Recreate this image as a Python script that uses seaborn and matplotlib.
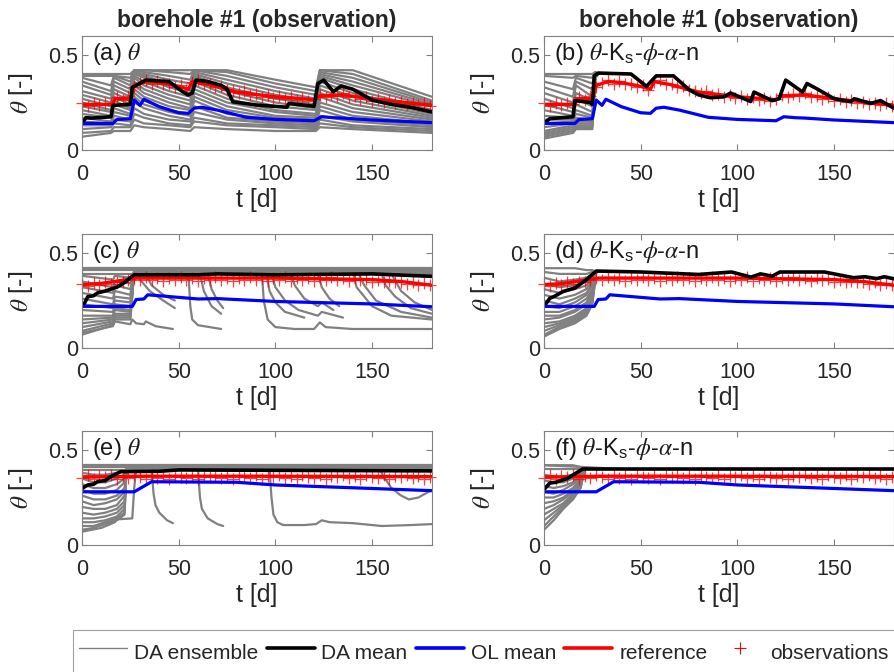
import numpy as np
import pandas as pd
import seaborn as sns
import matplotlib
matplotlib.use('Agg')
import matplotlib.pyplot as plt
from matplotlib.lines import Line2D

sns.set_style('ticks')
plt.rcParams['font.family'] = ['Liberation Sans', 'DejaVu Sans']
plt.rcParams['mathtext.fontset'] = 'custom'
plt.rcParams['mathtext.rm'] = 'Liberation Sans'
plt.rcParams['mathtext.it'] = 'STIXGeneral:italic'
plt.rcParams['mathtext.bf'] = 'Liberation Sans:bold'

# ---- data ----
obs_t = np.arange(0, 181, 3)

# row 1 (a, b)
ref1_t = [0, 16, 17, 25, 27, 33, 40, 50, 55, 57, 65, 80, 100, 120, 123, 135, 150, 181]
ref1 = [0.24, 0.24, 0.27, 0.27, 0.34, 0.36, 0.355, 0.335, 0.32, 0.36, 0.345, 0.305,
        0.28, 0.265, 0.285, 0.29, 0.27, 0.235]
obs1 = [0.25, 0.23, 0.245, 0.235, 0.25, 0.24, 0.28, 0.265, 0.285, 0.33,
        0.355, 0.37, 0.35, 0.365, 0.345, 0.35, 0.33, 0.34, 0.315, 0.36,
        0.37, 0.345, 0.35, 0.33, 0.335, 0.315, 0.31, 0.30, 0.31, 0.29,
        0.295, 0.28, 0.29, 0.275, 0.285, 0.27, 0.28, 0.265, 0.275, 0.26,
        0.27, 0.29, 0.28, 0.295, 0.285, 0.30, 0.28, 0.285, 0.27, 0.28,
        0.26, 0.27, 0.255, 0.265, 0.25, 0.255, 0.24, 0.25, 0.235, 0.245, 0.23]
ol1_t = [0, 16, 18, 25, 27, 30, 32, 40, 50, 55, 58, 62, 70, 85, 100, 120, 124, 130, 135, 150, 181]
ol1 = [0.14, 0.14, 0.16, 0.165, 0.263, 0.235, 0.267, 0.228, 0.196, 0.193, 0.22, 0.225,
       0.21, 0.172, 0.161, 0.154, 0.175, 0.17, 0.168, 0.158, 0.144]
da_a_t = [0, 2, 5, 15, 16, 25, 26, 28, 33, 45, 52, 55, 57, 59, 65, 72, 75, 78, 90, 106,
          107, 120, 122, 125, 130, 134, 140, 150, 160, 170, 181]
da_a = [0.14, 0.17, 0.168, 0.175, 0.235, 0.24, 0.33, 0.34, 0.368, 0.36, 0.307, 0.29, 0.30,
        0.368, 0.36, 0.34, 0.32, 0.254, 0.237, 0.225, 0.245, 0.23, 0.35, 0.368, 0.307,
        0.337, 0.32, 0.263, 0.24, 0.225, 0.20]
da_b_t = [0, 3, 15, 16, 24, 25, 26, 28, 45, 53, 58, 67, 75, 80, 86, 93, 96.5, 106.9, 108.6,
          118, 121.6, 125, 133.7, 136, 141.5, 150, 158.7, 160.4, 169, 174, 181]
da_b = [0.14, 0.165, 0.175, 0.26, 0.25, 0.24, 0.39, 0.405, 0.40, 0.335, 0.39, 0.39, 0.317,
        0.29, 0.275, 0.28, 0.30, 0.255, 0.305, 0.26, 0.27, 0.368, 0.305, 0.35, 0.32, 0.27,
        0.254, 0.27, 0.245, 0.26, 0.22]

ens_a_t = [0, 15, 16.5, 25, 27, 32, 45, 56, 58, 75, 100, 121, 123, 140, 181]
ens_a = [
    [0.40, 0.40, 0.40, 0.40, 0.42, 0.42, 0.42, 0.42, 0.42, 0.42, 0.37, 0.33, 0.42, 0.42, 0.28],
    [0.39, 0.39, 0.39, 0.38, 0.42, 0.42, 0.41, 0.40, 0.42, 0.41, 0.35, 0.31, 0.42, 0.40, 0.26],
    [0.38, 0.34, 0.39, 0.36, 0.42, 0.41, 0.39, 0.37, 0.42, 0.39, 0.33, 0.29, 0.41, 0.38, 0.25],
    [0.36, 0.31, 0.38, 0.34, 0.41, 0.40, 0.37, 0.35, 0.41, 0.37, 0.31, 0.27, 0.40, 0.36, 0.24],
    [0.34, 0.29, 0.36, 0.32, 0.41, 0.39, 0.35, 0.32, 0.40, 0.35, 0.29, 0.26, 0.39, 0.34, 0.23],
    [0.31, 0.27, 0.34, 0.30, 0.40, 0.38, 0.33, 0.30, 0.39, 0.33, 0.27, 0.24, 0.38, 0.32, 0.21],
    [0.29, 0.25, 0.32, 0.28, 0.39, 0.36, 0.31, 0.28, 0.38, 0.31, 0.25, 0.22, 0.36, 0.30, 0.20],
    [0.27, 0.23, 0.30, 0.26, 0.38, 0.34, 0.29, 0.26, 0.36, 0.29, 0.23, 0.21, 0.34, 0.28, 0.19],
    [0.25, 0.21, 0.28, 0.24, 0.36, 0.32, 0.27, 0.24, 0.34, 0.27, 0.21, 0.19, 0.32, 0.26, 0.18],
    [0.23, 0.20, 0.26, 0.22, 0.34, 0.30, 0.25, 0.22, 0.32, 0.25, 0.20, 0.18, 0.30, 0.24, 0.17],
    [0.21, 0.18, 0.24, 0.21, 0.32, 0.28, 0.23, 0.21, 0.30, 0.23, 0.18, 0.17, 0.28, 0.22, 0.16],
    [0.19, 0.17, 0.22, 0.19, 0.30, 0.26, 0.21, 0.19, 0.28, 0.21, 0.17, 0.16, 0.25, 0.20, 0.15],
    [0.17, 0.15, 0.20, 0.18, 0.28, 0.24, 0.20, 0.18, 0.26, 0.19, 0.16, 0.15, 0.23, 0.18, 0.14],
    [0.15, 0.14, 0.18, 0.16, 0.25, 0.22, 0.18, 0.16, 0.23, 0.17, 0.15, 0.14, 0.21, 0.16, 0.13],
    [0.13, 0.13, 0.16, 0.15, 0.22, 0.19, 0.16, 0.15, 0.20, 0.16, 0.14, 0.13, 0.18, 0.15, 0.12],
    [0.11, 0.12, 0.14, 0.13, 0.19, 0.17, 0.14, 0.13, 0.17, 0.14, 0.13, 0.12, 0.16, 0.13, 0.11],
    [0.09, 0.10, 0.12, 0.12, 0.16, 0.14, 0.13, 0.12, 0.15, 0.13, 0.12, 0.11, 0.14, 0.12, 0.10],
    [0.07, 0.09, 0.10, 0.10, 0.13, 0.12, 0.11, 0.10, 0.12, 0.11, 0.10, 0.10, 0.12, 0.11, 0.09],
]
ens_b_t = [0, 15, 16.5, 25, 26.5, 28]
ens_b = [
    [0.40, 0.40, 0.40, 0.40, 0.41, 0.40],
    [0.39, 0.38, 0.39, 0.38, 0.41, 0.40],
    [0.36, 0.32, 0.38, 0.35, 0.41, 0.40],
    [0.33, 0.28, 0.36, 0.32, 0.40, 0.40],
    [0.30, 0.25, 0.34, 0.28, 0.40, 0.40],
    [0.27, 0.22, 0.30, 0.26, 0.40, 0.40],
    [0.24, 0.20, 0.27, 0.23, 0.40, 0.40],
    [0.21, 0.18, 0.24, 0.20, 0.40, 0.40],
    [0.18, 0.17, 0.21, 0.18, 0.39, 0.40],
    [0.16, 0.16, 0.19, 0.17, 0.39, 0.40],
    [0.14, 0.15, 0.17, 0.16, 0.39, 0.40],
    [0.12, 0.14, 0.16, 0.15, 0.38, 0.40],
    [0.10, 0.13, 0.15, 0.15, 0.38, 0.40],
    [0.09, 0.12, 0.14, 0.14, 0.38, 0.40],
    [0.08, 0.11, 0.13, 0.13, 0.38, 0.40],
    [0.07, 0.10, 0.12, 0.12, 0.38, 0.40],
    [0.06, 0.09, 0.11, 0.11, 0.38, 0.40],
]

# row 2 (c, d)
ref2_t = [0, 10, 20, 28, 60, 100, 150, 165, 181]
ref2 = [0.333, 0.34, 0.355, 0.368, 0.368, 0.368, 0.36, 0.35, 0.33]
obs2 = [0.335, 0.325, 0.34, 0.33, 0.345, 0.335, 0.35, 0.345, 0.36, 0.37,
        0.36, 0.375, 0.36, 0.37, 0.355, 0.37, 0.36, 0.375, 0.36, 0.37,
        0.355, 0.37, 0.36, 0.375, 0.36, 0.37, 0.355, 0.37, 0.36, 0.375,
        0.36, 0.37, 0.355, 0.37, 0.36, 0.375, 0.355, 0.37, 0.36, 0.37,
        0.355, 0.37, 0.36, 0.375, 0.36, 0.37, 0.355, 0.37, 0.36, 0.365,
        0.35, 0.36, 0.345, 0.355, 0.345, 0.35, 0.335, 0.345, 0.33, 0.34, 0.33]
ol2_t = [0, 26, 28, 32, 34, 40, 60, 70, 100, 150, 181]
ol2 = [0.219, 0.219, 0.255, 0.258, 0.28, 0.275, 0.258, 0.26, 0.245, 0.232, 0.217]
da_c_t = [0, 1, 3, 6, 8, 12, 15, 18, 22, 25, 27, 40, 60, 70, 100, 150, 181]
da_c = [0.22, 0.23, 0.27, 0.275, 0.29, 0.30, 0.31, 0.32, 0.345, 0.37, 0.385, 0.385, 0.385,
        0.39, 0.385, 0.39, 0.377]
da_d_t = [0, 3, 5, 10, 16, 22, 27, 50, 80, 97, 107, 112, 118, 122, 145, 160, 166, 172, 176, 181]
da_d = [0.218, 0.262, 0.27, 0.298, 0.316, 0.36, 0.405, 0.40, 0.387, 0.40, 0.373, 0.39, 0.378,
        0.40, 0.40, 0.37, 0.375, 0.365, 0.375, 0.364]

ens_c_t = [0, 16, 17, 25, 27, 181]
ens_c = [
    [0.38, 0.36, 0.38, 0.37, 0.40, 0.40],
    [0.35, 0.32, 0.35, 0.34, 0.40, 0.40],
    [0.32, 0.29, 0.33, 0.31, 0.40, 0.40],
    [0.29, 0.26, 0.30, 0.28, 0.40, 0.40],
    [0.26, 0.23, 0.27, 0.26, 0.40, 0.40],
    [0.23, 0.21, 0.25, 0.24, 0.41, 0.41],
    [0.20, 0.19, 0.23, 0.22, 0.41, 0.41],
    [0.17, 0.17, 0.21, 0.20, 0.41, 0.41],
    [0.15, 0.16, 0.20, 0.19, 0.39, 0.39],
    [0.13, 0.15, 0.18, 0.18, 0.40, 0.40],
    [0.11, 0.14, 0.17, 0.17, 0.40, 0.40],
    [0.09, 0.13, 0.16, 0.16, 0.40, 0.40],
    [0.07, 0.12, 0.15, 0.15, 0.40, 0.40],
]
ens_c_extra = [
    ([0, 181], [0.42, 0.42]),
    ([0, 181], [0.41, 0.41]),
    ([0, 181], [0.39, 0.39]),
    ([0, 16, 17, 25, 26, 28, 32, 33, 38, 47], [0.08, 0.115, 0.14, 0.125, 0.15, 0.13, 0.125, 0.14, 0.115, 0.10]),
    ([28, 30, 35, 42, 48], [0.40, 0.36, 0.30, 0.25, 0.21]),
    ([33, 36, 42, 48], [0.39, 0.33, 0.28, 0.25]),
    ([55, 56, 57, 60, 72], [0.40, 0.22, 0.15, 0.12, 0.10]),
    ([61, 63, 67, 72], [0.39, 0.30, 0.22, 0.18]),
    ([65, 67, 70, 73], [0.39, 0.31, 0.25, 0.21]),
    ([93, 94, 96, 100, 110, 120, 123, 126, 140, 160, 181],
     [0.40, 0.25, 0.15, 0.11, 0.10, 0.10, 0.135, 0.11, 0.10, 0.10, 0.10]),
    ([95, 97, 100, 105, 115], [0.40, 0.30, 0.24, 0.19, 0.16]),
    ([98, 100, 105, 112, 122, 124, 135], [0.39, 0.32, 0.25, 0.20, 0.17, 0.19, 0.16]),
    ([108, 110, 115, 122, 124, 130], [0.39, 0.33, 0.26, 0.22, 0.24, 0.20]),
    ([122, 124, 128, 133], [0.39, 0.32, 0.26, 0.22]),
    ([140, 142, 150, 160, 181], [0.40, 0.32, 0.22, 0.17, 0.15]),
    ([143, 146, 152, 165, 181], [0.39, 0.33, 0.25, 0.19, 0.16]),
    ([155, 157, 162, 170, 181], [0.39, 0.33, 0.27, 0.21, 0.18]),
    ([160, 165, 172, 181], [0.39, 0.30, 0.24, 0.20]),
]
ens_d_t = [0, 8, 16, 22, 25, 27]
ens_d = [
    [0.42, 0.42, 0.42, 0.41, 0.41, 0.40],
    [0.40, 0.39, 0.39, 0.39, 0.40, 0.40],
    [0.37, 0.35, 0.36, 0.37, 0.39, 0.40],
    [0.34, 0.32, 0.33, 0.35, 0.38, 0.40],
    [0.31, 0.29, 0.31, 0.33, 0.37, 0.40],
    [0.28, 0.26, 0.28, 0.31, 0.36, 0.40],
    [0.25, 0.23, 0.26, 0.29, 0.34, 0.40],
    [0.22, 0.21, 0.24, 0.28, 0.33, 0.40],
    [0.19, 0.19, 0.22, 0.26, 0.31, 0.40],
    [0.17, 0.17, 0.20, 0.24, 0.30, 0.40],
    [0.15, 0.16, 0.19, 0.23, 0.28, 0.40],
    [0.13, 0.14, 0.17, 0.21, 0.27, 0.40],
    [0.11, 0.13, 0.16, 0.20, 0.26, 0.40],
    [0.09, 0.12, 0.15, 0.19, 0.25, 0.40],
    [0.07, 0.11, 0.14, 0.18, 0.24, 0.40],
    [0.06, 0.10, 0.13, 0.17, 0.23, 0.40],
]

# row 3 (e, f)
ref3_t = [0, 30, 90, 181]
ref3 = [0.357, 0.362, 0.362, 0.36]
obs3 = [0.355, 0.37, 0.35, 0.365, 0.36, 0.37, 0.35, 0.365, 0.355, 0.37,
        0.36, 0.35, 0.37, 0.355, 0.365, 0.35, 0.37, 0.36, 0.355, 0.37,
        0.35, 0.365, 0.36, 0.37, 0.355, 0.365, 0.35, 0.37, 0.36, 0.355,
        0.37, 0.35, 0.365, 0.36, 0.37, 0.355, 0.365, 0.35, 0.37, 0.36,
        0.355, 0.37, 0.35, 0.365, 0.36, 0.37, 0.355, 0.365, 0.35, 0.37,
        0.36, 0.355, 0.37, 0.35, 0.365, 0.36, 0.37, 0.355, 0.365, 0.35, 0.36]
ol3_t = [0, 27, 36, 80, 100, 181]
ol3 = [0.28, 0.28, 0.333, 0.33, 0.316, 0.286]
da_e_t = [0, 3, 6, 8, 12, 15, 20, 40, 50, 100, 181]
da_e = [0.298, 0.316, 0.32, 0.333, 0.34, 0.36, 0.386, 0.388, 0.395, 0.393, 0.39]
da_f_t = [0, 3, 6, 12, 20, 181]
da_f = [0.292, 0.326, 0.33, 0.35, 0.40, 0.40]

ens_e_t = [0, 6, 12, 18, 22, 23, 181]
ens_e = [
    [0.38, 0.37, 0.37, 0.38, 0.39, 0.40, 0.40],
    [0.35, 0.33, 0.33, 0.35, 0.37, 0.40, 0.40],
    [0.32, 0.30, 0.30, 0.32, 0.35, 0.41, 0.41],
    [0.29, 0.27, 0.27, 0.29, 0.33, 0.40, 0.40],
    [0.26, 0.24, 0.24, 0.26, 0.30, 0.41, 0.41],
    [0.23, 0.21, 0.22, 0.24, 0.28, 0.40, 0.40],
    [0.20, 0.19, 0.19, 0.21, 0.26, 0.40, 0.40],
    [0.17, 0.16, 0.17, 0.19, 0.23, 0.41, 0.41],
    [0.14, 0.14, 0.15, 0.17, 0.21, 0.40, 0.40],
    [0.12, 0.12, 0.13, 0.15, 0.19, 0.40, 0.40],
    [0.10, 0.10, 0.12, 0.14, 0.17, 0.40, 0.40],
    [0.08, 0.09, 0.11, 0.13, 0.16, 0.40, 0.40],
]
ens_e_extra = [
    ([0, 181], [0.42, 0.42]),
    ([0, 181], [0.41, 0.41]),
    ([0, 181], [0.395, 0.395]),
    ([0, 10, 17, 18, 26, 27, 28], [0.07, 0.09, 0.12, 0.135, 0.14, 0.30, 0.40]),
    ([36, 37, 38, 40, 44, 47], [0.40, 0.27, 0.21, 0.17, 0.13, 0.115]),
    ([60, 61, 62, 65, 70, 73], [0.40, 0.25, 0.19, 0.14, 0.11, 0.10]),
    ([97, 98, 99, 101, 104, 115, 121, 124, 128, 140, 155, 170, 181],
     [0.40, 0.25, 0.16, 0.12, 0.105, 0.105, 0.11, 0.13, 0.12, 0.115, 0.10, 0.105, 0.11]),
    ([154, 156, 160, 165, 169, 174, 181], [0.40, 0.36, 0.30, 0.26, 0.24, 0.25, 0.29]),
]
ens_f_t = [0, 5, 10, 15, 19, 21]
ens_f = [
    [0.42, 0.42, 0.42, 0.42, 0.41, 0.40],
    [0.40, 0.40, 0.40, 0.40, 0.40, 0.40],
    [0.37, 0.36, 0.36, 0.37, 0.39, 0.40],
    [0.34, 0.33, 0.33, 0.35, 0.38, 0.40],
    [0.31, 0.30, 0.31, 0.33, 0.37, 0.40],
    [0.28, 0.27, 0.29, 0.32, 0.36, 0.40],
    [0.25, 0.25, 0.27, 0.30, 0.35, 0.40],
    [0.22, 0.23, 0.25, 0.29, 0.34, 0.40],
    [0.19, 0.21, 0.24, 0.28, 0.33, 0.40],
    [0.16, 0.19, 0.22, 0.27, 0.32, 0.40],
    [0.13, 0.17, 0.21, 0.26, 0.31, 0.40],
    [0.10, 0.15, 0.20, 0.25, 0.31, 0.40],
    [0.08, 0.13, 0.19, 0.24, 0.30, 0.40],
]
ens_f_extra = [([0, 21, 40], [0.42, 0.41, 0.40])]

labels = ['(a) $\\theta$', '(b) $\\theta$-K$_{\\mathrm{s}}$-$\\phi$-$\\alpha$-n',
          '(c) $\\theta$', '(d) $\\theta$-K$_{\\mathrm{s}}$-$\\phi$-$\\alpha$-n',
          '(e) $\\theta$', '(f) $\\theta$-K$_{\\mathrm{s}}$-$\\phi$-$\\alpha$-n']


def ens_frame(t, rows, extra=()):
    members = [(t, r) for r in rows] + list(extra)
    parts = [pd.DataFrame({'t': mt, 'theta': mv, 'member': i})
             for i, (mt, mv) in enumerate(members)]
    return pd.concat(parts, ignore_index=True)


panels = [
    (ens_frame(ens_a_t, ens_a), da_a_t, da_a, ol1_t, ol1, ref1_t, ref1, obs1),
    (ens_frame(ens_b_t, ens_b), da_b_t, da_b, ol1_t, ol1, ref1_t, ref1, obs1),
    (ens_frame(ens_c_t, ens_c, ens_c_extra), da_c_t, da_c, ol2_t, ol2, ref2_t, ref2, obs2),
    (ens_frame(ens_d_t, ens_d), da_d_t, da_d, ol2_t, ol2, ref2_t, ref2, obs2),
    (ens_frame(ens_e_t, ens_e, ens_e_extra), da_e_t, da_e, ol3_t, ol3, ref3_t, ref3, obs3),
    (ens_frame(ens_f_t, ens_f, ens_f_extra), da_f_t, da_f, ol3_t, ol3, ref3_t, ref3, obs3),
]

W, H = 894, 672
fig = plt.figure(figsize=(W / 100, H / 100), dpi=100)
lefts = [82, 544]
bottoms = [150, 348, 545]
spine_col = '#808080'

for k, (ens, dt, dv, ot, ov, rt, rv, obs) in enumerate(panels):
    row, col = divmod(k, 2)
    ax = fig.add_axes([lefts[col] / W, 1 - bottoms[row] / H, 350 / W, 114 / H])
    sns.lineplot(data=ens, x='t', y='theta', units='member', estimator=None, sort=False,
                 color='#808080', lw=1.6, ax=ax, legend=False)
    sns.lineplot(x=rt, y=rv, color='red', lw=2.4, sort=False, ax=ax)
    ax.plot(obs_t, obs, ls='none', marker='+', color='red', ms=9, mew=0.9, alpha=0.75,
            clip_on=False)
    sns.lineplot(x=dt, y=dv, color='black', lw=2.6, sort=False, ax=ax)
    sns.lineplot(x=ot, y=ov, color='blue', lw=2.3, sort=False, ax=ax)

    ax.set_xlim(0, 181)
    ax.set_ylim(0, 0.6)
    ax.set_xticks([0, 50, 100, 150])
    ax.set_yticks([0, 0.5], ['0', '0.5'])
    ax.tick_params(direction='in', top=True, right=True, length=4, width=0.8,
                   color=spine_col, labelcolor='#262626', labelsize=15.5)
    ax.tick_params(axis='x', pad=10)
    ax.tick_params(axis='y', pad=3)
    for s in ax.spines.values():
        s.set_color(spine_col)
        s.set_linewidth(0.8)
    ax.set_xlabel('t [d]', fontsize=18, color='#262626')
    ax.set_ylabel('$\\theta$ [-]', fontsize=18, color='#262626')
    ax.xaxis.set_label_coords(0.5, -0.33)
    ax.yaxis.set_label_coords(-0.135, 0.5)
    ax.text(0.03, 0.84, labels[k], transform=ax.transAxes, fontsize=17, va='center',
            ha='left', color='#1a1a1a')

for cx in [(82 + 432) / 2, (544 + 894) / 2]:
    fig.text(cx / W, 1 - 20 / H, 'borehole #1 (observation)', ha='center', va='center',
             fontsize=16.5, fontweight='bold')

handles = [
    Line2D([], [], color='#808080', lw=1.0),
    Line2D([], [], color='black', lw=2.6),
    Line2D([], [], color='blue', lw=2.6),
    Line2D([], [], color='red', lw=2.6),
    Line2D([], [], ls='none', marker='+', color='red', ms=9, mew=0.8),
]
names = ['DA ensemble', 'DA mean', 'OL mean', 'reference', 'observations']
leg = fig.legend(handles, names, loc='upper left', bbox_to_anchor=(73 / W, 1 - 630 / H),
                 ncol=5, fontsize=15, frameon=True, fancybox=False, framealpha=1,
                 edgecolor='#a0a0a0', borderpad=0.3, handlelength=2.3, handleheight=2.0,
                 handletextpad=0.33, columnspacing=0.4, borderaxespad=0)
leg.get_frame().set_linewidth(0.8)

fig.savefig('out.png', dpi=100)
